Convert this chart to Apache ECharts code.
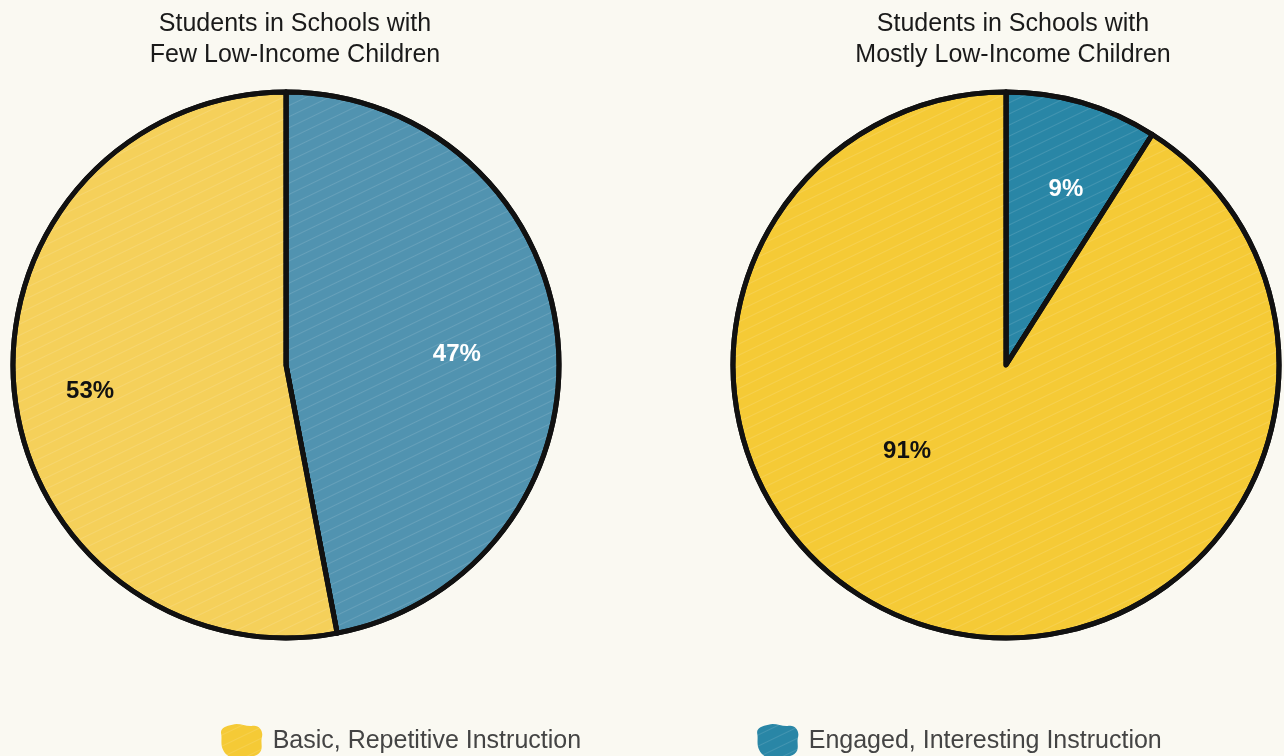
<!DOCTYPE html>
<html><head><meta charset="utf-8">
<script src="https://cdn.jsdelivr.net/npm/echarts@6/dist/echarts.min.js"></script>
<style>html,body{margin:0;padding:0;background:#faf9f2;}#c{width:1284px;height:756px;}</style>
</head><body><div id="c"></div>
<script>
const categories = ['Engaged, Interesting Instruction', 'Basic, Repetitive Instruction'];
const fewLowIncome = [47, 53];
const mostlyLowIncome = [9, 91];
const titles = ['Students in Schools with\nFew Low-Income Children', 'Students in Schools with\nMostly Low-Income Children'];

const chart = echarts.init(document.getElementById('c'), null, {renderer: 'canvas'});
const blob = 'path://M12,2 C18,0 24,4 30,3 C36,2 40,8 38,14 C37,19 40,24 35,28 C30,32 24,29 19,31 C13,33 6,30 4,25 C1,20 3,15 2,10 C1,5 6,3 12,2 Z';
function mk(values, center, colors, offsets, labelColors) {
  return {
    type: 'pie', radius: 273, center: center, startAngle: 90, clockwise: true,
    silent: true, animation: false,
    label: {position: 'inside', fontFamily: 'Liberation Sans, Arial', fontWeight: 'bold', fontSize: 24},
    labelLine: {show: false},
    itemStyle: {borderColor: '#111', borderWidth: 5},
    data: categories.map((c, i) => ({
      name: c, value: values[i],
      itemStyle: {color: colors[i], decal: {symbol: 'rect', symbolSize: 1, dashArrayX: [[1, 0]], dashArrayY: [1, 9], rotation: -Math.PI / 7, color: 'rgba(255,255,255,0.12)'}},
      label: {offset: offsets[i], color: labelColors[i], formatter: values[i] + '%'}
    }))
  };
}
chart.setOption({
  backgroundColor: '#faf9f2',
  aria: {enabled: true, decal: {show: true}},
  title: titles.map((t, i) => ({
    text: t, left: i === 0 ? 290 : 1008, top: 4, textAlign: 'center',
    textStyle: {fontFamily: 'Liberation Sans, Arial', fontWeight: 'normal', fontSize: 25, color: '#1a1a1a', lineHeight: 31}
  })),
  legend: {
    data: [
      {name: categories[1], itemStyle: {color: '#f5ca36'}},
      {name: categories[0], itemStyle: {color: '#2986a6'}}
    ],
    left: 216, top: 719, itemGap: 176, itemWidth: 42, itemHeight: 34,
    icon: blob, selectedMode: false,
    itemStyle: {borderWidth: 0},
    textStyle: {fontFamily: 'Liberation Sans, Arial', fontSize: 25, color: '#444', padding: [0, 0, 0, 5]}
  },
  series: [
    mk(fewLowIncome, [286, 365], ['#5193b0', '#f5d05a'], [[32, 3], [-57, 13]], ['#fff', '#111']),
    mk(mostlyLowIncome, [1006, 365], ['#2986a6', '#f5ca36'], [[21, -42], [-60, -48]], ['#fff', '#111'])
  ]
});
</script></body></html>
